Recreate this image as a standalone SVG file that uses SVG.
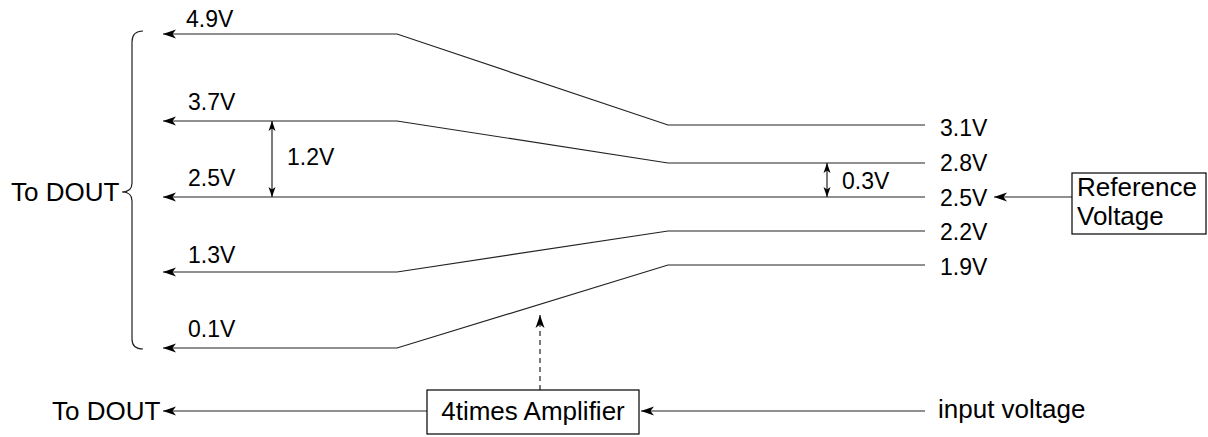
<svg xmlns="http://www.w3.org/2000/svg" width="1208" height="437" viewBox="0 0 1208 437">
<style>
text{font-family:"Liberation Sans",Arial,Helvetica,sans-serif;fill:#000}
.lbl{font-size:23px}
.big{font-size:26px}
.ln{fill:none;stroke:#222;stroke-width:1.2}
.arr{marker-end:url(#ah)}
.dbl{marker-start:url(#sh);marker-end:url(#sh)}
.box{fill:#fff;stroke:#000;stroke-width:1.2}
</style>
<defs>
<marker id="ah" markerUnits="userSpaceOnUse" viewBox="0 0 13 10" markerWidth="13" markerHeight="10" refX="13" refY="5" orient="auto">
<path d="M13,5 L0,0.5 L3.5,5 L0,9.5 Z" fill="#000"/>
</marker>
<marker id="sh" markerUnits="userSpaceOnUse" viewBox="0 0 10 8" markerWidth="10" markerHeight="8" refX="10" refY="4" orient="auto-start-reverse">
<path d="M10,4 L0,0.5 L2.5,4 L0,7.5 Z" fill="#000"/>
</marker>
</defs>
<g id="connectors">
<path class="ln arr" d="M925,125 L668,125 L397,34 L163,34"/>
<path class="ln arr" d="M925,163 L668,163 L397,121 L163,121"/>
<path class="ln arr" d="M925,197 L163,197"/>
<path class="ln arr" d="M925,231 L668,231 L397,272 L163,272"/>
<path class="ln arr" d="M925,265 L668,265 L397,348 L163,348"/>
<path class="ln arr" d="M1072,197 L994,197"/>
<path class="ln arr" d="M427,411 L163,411"/>
<path class="ln arr" d="M925,411 L641,411"/>
<path class="ln arr" d="M540,390 L540,315" stroke-dasharray="5,4"/>
<path class="ln dbl" d="M272,197 L272,121"/>
<path class="ln dbl" d="M827,197 L827,163"/>
</g>
<g id="brace">
<path class="ln" d="M143,31 Q132,31 132,42 L132,183 Q132,192 122,192 Q132,192 132,201 L132,339 Q132,349 143,349"/>
</g>
<g id="labels-left">
<text class="lbl" x="186" y="27">4.9V</text>
<text class="lbl" x="188" y="110">3.7V</text>
<text class="lbl" x="188" y="186">2.5V</text>
<text class="lbl" x="188" y="263">1.3V</text>
<text class="lbl" x="188" y="337">0.1V</text>
<text class="lbl" x="287" y="165">1.2V</text>
<text class="lbl" x="842" y="189">0.3V</text>
</g>
<g id="labels-right">
<text class="lbl" x="940" y="136">3.1V</text>
<text class="lbl" x="940" y="171">2.8V</text>
<text class="lbl" x="940" y="206">2.5V</text>
<text class="lbl" x="940" y="240">2.2V</text>
<text class="lbl" x="940" y="275">1.9V</text>
</g>
<g id="to-dout-top">
<text class="big" x="11" y="201">To DOUT</text>
</g>
<g id="reference-voltage">
<rect class="box" x="1072" y="173" width="134" height="61"/>
<text class="big" x="1077" y="196">Reference</text>
<text class="big" x="1077" y="225">Voltage</text>
</g>
<g id="amplifier">
<rect class="box" x="427" y="390" width="212" height="44"/>
<text class="big" x="533" y="420" text-anchor="middle">4times Amplifier</text>
</g>
<g id="to-dout-bottom">
<text class="big" x="52" y="420">To DOUT</text>
</g>
<g id="input-voltage">
<text class="big" x="938" y="418">input voltage</text>
</g>
</svg>
